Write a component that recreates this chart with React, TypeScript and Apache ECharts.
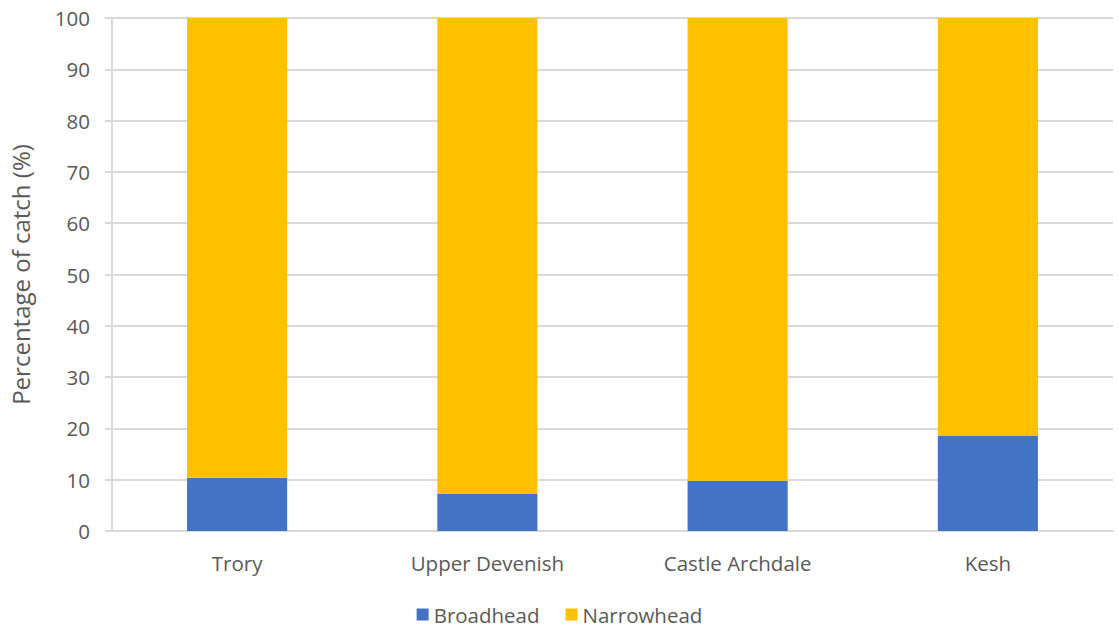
import React, { useEffect, useRef } from "react";
import * as echarts from "echarts";

const categories = ["Trory", "Upper Devenish", "Castle Archdale", "Kesh"];
const broadhead = [10.4, 7.2, 9.8, 18.6];
const narrowhead = [89.6, 92.8, 90.2, 81.4];
const seriesNames = ["Broadhead", "Narrowhead"];
const yAxisName = "Percentage of catch (%)";

const FONT = "Open Sans";
const TEXT = "#595959";

export default function App() {
  const ref = useRef<HTMLDivElement>(null);
  useEffect(() => {
    if (!ref.current) return;
    const chart = echarts.init(ref.current, undefined, { renderer: "svg" });
    chart.setOption({
      animation: false,
      textStyle: { fontFamily: FONT, color: TEXT },
      grid: { left: 107, right: 6, top: 18, bottom: 100, containLabel: false },
      legend: {
        data: seriesNames,
        bottom: 1,
        left: "center",
        icon: "rect",
        itemWidth: 12,
        itemHeight: 12,
        itemGap: 26,
        textStyle: { fontFamily: FONT, color: TEXT, fontSize: 20.5 },
      },
      xAxis: {
        type: "category",
        data: categories,
        axisLine: { lineStyle: { color: "#d9d9d9", width: 2 } },
        axisTick: { show: false },
        axisLabel: { color: TEXT, fontSize: 20.5, fontFamily: FONT, margin: 21 },
      },
      yAxis: {
        type: "value",
        min: 0,
        max: 100,
        interval: 10,
        name: yAxisName,
        nameLocation: "middle",
        nameRotate: 90,
        nameGap: 80,
        nameTextStyle: { color: TEXT, fontSize: 24, fontFamily: FONT },
        axisLine: { show: true, lineStyle: { color: "#d9d9d9", width: 2 } },
        axisTick: { show: true, length: 7, lineStyle: { color: "#d9d9d9", width: 2 } },
        axisLabel: { color: TEXT, fontSize: 20.5, fontFamily: FONT, margin: 22 },
        splitLine: { lineStyle: { color: "#d9d9d9", width: 2 } },
      },
      series: [
        {
          name: seriesNames[0],
          type: "bar",
          stack: "total",
          data: broadhead,
          barWidth: "40%",
          itemStyle: { color: "#4472c4" },
        },
        {
          name: seriesNames[1],
          type: "bar",
          stack: "total",
          data: narrowhead,
          barWidth: "40%",
          itemStyle: { color: "#ffc000" },
        },
      ],
    });
    return () => chart.dispose();
  }, []);
  return (
    <div
      ref={ref}
      style={{ position: "fixed", left: 0, top: 0, width: 1119, height: 631, background: "#fff" }}
    />
  );
}
